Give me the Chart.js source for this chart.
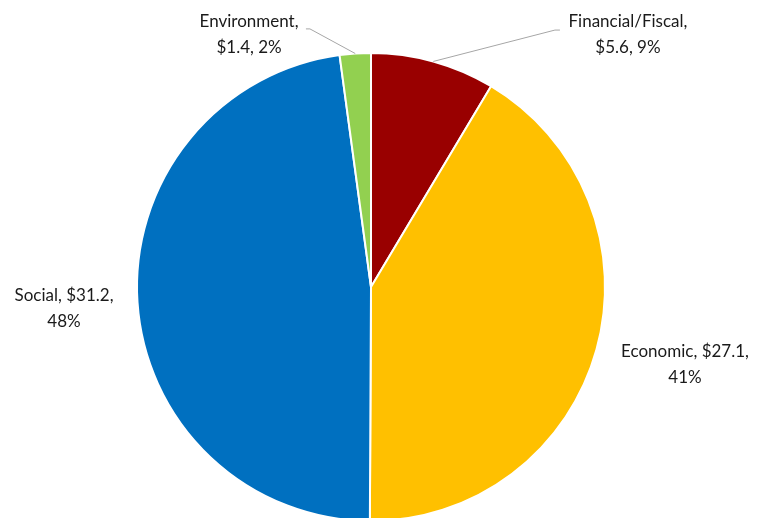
<!DOCTYPE html>
<html>
<head>
<meta charset="utf-8">
<script src="https://cdn.jsdelivr.net/npm/chart.js@4"></script>
<style>
  html, body { margin: 0; padding: 0; background: #fff; overflow: hidden; }
  #wrap { position: absolute; left: 0; top: 0; width: 757px; height: 524px; }
</style>
</head>
<body>
<div id="wrap"><canvas id="pie-chart"></canvas></div>
<script>
var categories = ['Financial/Fiscal', 'Economic', 'Social', 'Environment']
var amounts = [5.6, 27.1, 31.2, 1.4]
var percents = ['9%', '41%', '48%', '2%']
var sliceColors = ['#990000', '#FFC000', '#0070C0', '#92D050']

// label block centre and optional leader elbow, in units of the pie radius
var labelSpots = [
    { dx: 1.098, dy: -1.077, elbow: [0.786, -1.098], tail: 5 },
    { dx: 1.342, dy: 0.333 },
    { dx: -1.312, dy: 0.094 },
    { dx: -0.521, dy: -1.077, elbow: [-0.261, -1.103], tail: -4 }
]

const labelPlugin = {
    id: 'sliceLabels',
    afterDatasetsDraw(chart) {
        const ctx = chart.ctx
        const meta = chart.getDatasetMeta(0)
        ctx.save()
        meta.data.forEach((arc, i) => {
            const R = arc.outerRadius
            const spot = labelSpots[i]
            if (spot.elbow) {
                const mid = (arc.startAngle + arc.endAngle) / 2
                const ex = arc.x + spot.elbow[0] * R
                const ey = arc.y + spot.elbow[1] * R
                ctx.beginPath()
                ctx.strokeStyle = '#A6A6A6'
                ctx.lineWidth = 1
                ctx.moveTo(arc.x + R * Math.cos(mid), arc.y + R * Math.sin(mid))
                ctx.lineTo(ex, ey)
                ctx.lineTo(ex + spot.tail, ey)
                ctx.stroke()
            }
            const cx = arc.x + spot.dx * R
            const cy = arc.y + spot.dy * R
            let line1, line2
            if (i == 1 || i == 2) {
                line1 = categories[i] + ', $' + amounts[i].toFixed(1) + ','
                line2 = percents[i]
            } else {
                line1 = categories[i] + ','
                line2 = '$' + amounts[i].toFixed(1) + ', ' + percents[i]
            }
            ctx.fillStyle = '#1a1a1a'
            ctx.font = '17px Lato, "Open Sans", sans-serif'
            ctx.textAlign = 'center'
            ctx.textBaseline = 'middle'
            ctx.fillText(line1, cx, cy - 13)
            ctx.fillText(line2, cx, cy + 13)
        })
        ctx.restore()
    }
}

var pieChart;
function setupChart() {
    const ctx = document.getElementById('pie-chart').getContext('2d');
    pieChart = new Chart(ctx, {
        type: 'pie',
        data: {
            labels: categories,
            datasets: [
                {
                    data: amounts,
                    backgroundColor: sliceColors,
                    borderColor: '#FFFFFF',
                    borderWidth: 2
                }
            ]
        },
        options: {
            responsive: true,
            maintainAspectRatio: false,
            animation: false,
            layout: {
                padding: { left: 136, right: 151, top: 52, bottom: 2 }
            },
            plugins: {
                legend: { display: false },
                tooltip: { enabled: false }
            }
        },
        plugins: [labelPlugin]
    })
}

setupChart()
</script>
</body>
</html>
